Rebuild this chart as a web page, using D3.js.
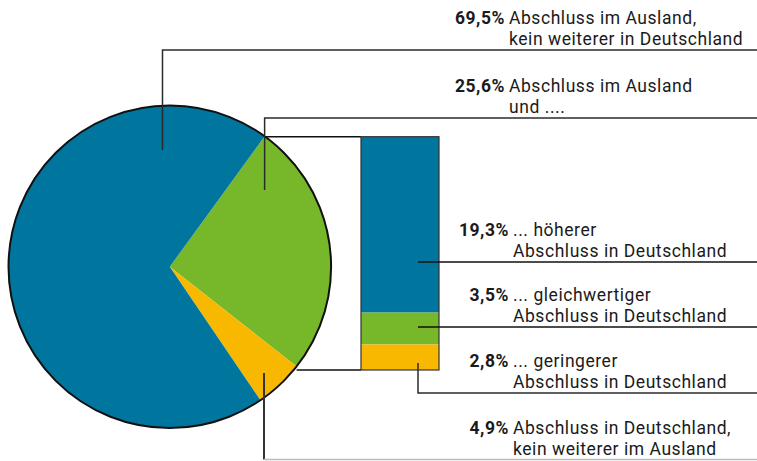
<!DOCTYPE html>
<html>
<head>
<meta charset="utf-8">
<script src="https://cdn.jsdelivr.net/npm/d3@7"></script>
<style>
  body { margin: 0; background: #fff; }
  text { font-family: Roboto, "Noto Sans", sans-serif; fill: #1a1a1a; }
</style>
</head>
<body>
<div id="main"></div>
<script>
// pie: share of all
var pie_keys = ['green', 'yellow', 'blue']
var pie_values = [25.6, 4.9, 69.5]
// bar: breakdown of the 25,6%
var bar_keys = ['blue', 'green', 'yellow']
var bar_values = [19.3, 3.5, 2.8]

var value_labels = ['69,5%', '25,6%', '19,3%', '3,5%', '2,8%', '4,9%']
var text_lines = [
  ['Abschluss im Ausland,', 'kein weiterer in Deutschland'],
  ['Abschluss im Ausland', 'und ....'],
  ['... höherer', 'Abschluss in Deutschland'],
  ['... gleichwertiger', 'Abschluss in Deutschland'],
  ['... geringerer', 'Abschluss in Deutschland'],
  ['Abschluss in Deutschland,', 'kein weiterer im Ausland']
]

var colors = { blue: '#00769f', green: '#77b72a', yellow: '#f9b800' }

var w = 757
var h = 461
var svg = d3.select('div#main').append('svg')
  .attr('width', w)
  .attr('height', h)
  .attr('viewBox', [0, 0, w, h].join(' '))

var cx = 169.8
var cy = 266.8
var r = 161.3
var start = 36 * Math.PI / 180

var pie = d3.pie().sort(null).value(function (d) { return d })
  .startAngle(start).endAngle(start + 2 * Math.PI)
var arcs = pie(pie_values)
var arc = d3.arc().innerRadius(0).outerRadius(r)

var gpie = svg.append('g').attr('transform', 'translate(' + cx + ',' + cy + ')')
gpie.selectAll('path').data(arcs).enter().append('path')
  .attr('d', arc)
  .attr('fill', function (d, i) { return colors[pie_keys[i]] })
gpie.append('circle').attr('r', r).attr('fill', 'none')
  .attr('stroke', '#111').attr('stroke-width', 2)

function pt (a, rr) {
  return [cx + rr * Math.sin(a), cy - rr * Math.cos(a)]
}

// stacked bar
var bar_x = 361
var bar_w = 78
var total = d3.sum(bar_values)
var y = d3.scaleLinear().domain([0, total]).range([370, 136.7])
var stack = []
var acc = total
bar_values.forEach(function (v, i) {
  stack.push({ key: bar_keys[i], top: acc, bottom: acc - v })
  acc -= v
})

var line_color = '#2b2b2b'
function seg (pts, col, sw) {
  svg.append('path')
    .attr('d', d3.line()(pts))
    .attr('fill', 'none')
    .attr('stroke', col || line_color)
    .attr('stroke-width', sw || 1.5)
}

// connectors pie -> bar
var g_start = pt(arcs[0].startAngle, r)
var g_end = pt(arcs[0].endAngle, r)
seg([[g_start[0], y(total)], [bar_x, y(total)]], '#111', 1.5)
seg([[g_end[0], y(0)], [bar_x, y(0)]], '#111', 1.5)

svg.selectAll('rect.bar').data(stack).enter().append('rect')
  .attr('class', 'bar')
  .attr('x', bar_x)
  .attr('y', function (d) { return y(d.top) })
  .attr('width', bar_w)
  .attr('height', function (d) { return y(d.bottom) - y(d.top) })
  .attr('fill', function (d) { return colors[d.key] })
svg.append('rect')
  .attr('x', bar_x).attr('y', y(total))
  .attr('width', bar_w).attr('height', y(0) - y(total))
  .attr('fill', 'none').attr('stroke', '#333').attr('stroke-width', 1.2)

// leader lines
var line_y = [50, 118, 262, 327, 393, 459.5]
var lx = bar_x + 57
seg([[162.5, 150], [162.5, line_y[0]], [w, line_y[0]]])
seg([[g_start[0], 190], [g_start[0], line_y[1]], [w, line_y[1]]])
seg([[lx, line_y[2]], [w, line_y[2]]], '#111', 1.5)
seg([[lx, line_y[3]], [w, line_y[3]]], '#111', 1.5)
seg([[lx, 363], [lx, line_y[4]], [w, line_y[4]]])
seg([[264, 373], [264, line_y[5]]], '#333', 2)
seg([[264, line_y[5]], [w, line_y[5]]], '#bbb', 1.5)

// labels: one text per group, lines as tspans
var fs = 17.5
value_labels.forEach(function (v, i) {
  var base2 = line_y[i] - 5
  var base1 = base2 - 21
  var tx = i < 2 ? 509 : 513
  var t = svg.append('text')
    .style('font-size', fs + 'px')
    .style('letter-spacing', '0.55px')
  t.append('tspan')
    .attr('x', tx - 4).attr('y', base1)
    .attr('text-anchor', 'end')
    .style('font-weight', 'bold')
    .text(v)
  text_lines[i].forEach(function (s, j) {
    t.append('tspan')
      .attr('x', tx).attr('y', j === 0 ? base1 : base2)
      .attr('text-anchor', 'start')
      .text(s)
  })
})
</script>
</body>
</html>
